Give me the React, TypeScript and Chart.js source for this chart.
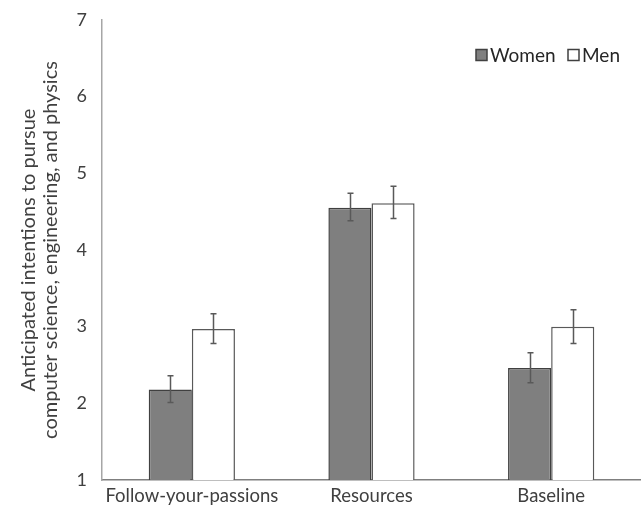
import React, { useEffect, useRef } from "react";
import { Chart, registerables } from "chart.js";

Chart.register(...registerables);

const categories = ["Follow-your-passions", "Resources", "Baseline"];
const seriesNames = ["Women", "Men"];
const women = [2.18, 4.55, 2.46];
const men = [2.97, 4.61, 3.0];
const womenLow = [2.01, 4.38, 2.27];
const womenHigh = [2.36, 4.74, 2.66];
const menLow = [2.78, 4.41, 2.78];
const menHigh = [3.17, 4.83, 3.22];
const yTicks = [1, 2, 3, 4, 5, 6, 7];
const yTitle = ["Anticipated intentions to pursue", "computer science, engineering, and physics"];

const FONT = "Lato, 'Open Sans', sans-serif";
const TEXT = "#404040";

const errorBars = {
  id: "errorBars",
  afterDatasetsDraw(chart: any) {
    const ctx = chart.ctx;
    const y = chart.scales.y;
    const lows = [womenLow, menLow];
    const highs = [womenHigh, menHigh];
    ctx.save();
    ctx.strokeStyle = "#595959";
    ctx.lineWidth = 1.5;
    chart.data.datasets.forEach((_: any, di: number) => {
      const meta = chart.getDatasetMeta(di);
      meta.data.forEach((bar: any, i: number) => {
        const x = Math.round(bar.x) + 0.5;
        const y1 = y.getPixelForValue(lows[di][i]);
        const y2 = y.getPixelForValue(highs[di][i]);
        ctx.beginPath();
        ctx.moveTo(x, y1);
        ctx.lineTo(x, y2);
        ctx.moveTo(x - 3, y1);
        ctx.lineTo(x + 3, y1);
        ctx.moveTo(x - 3, y2);
        ctx.lineTo(x + 3, y2);
        ctx.stroke();
      });
    });
    ctx.restore();
  },
};

const customLegend = {
  id: "customLegend",
  afterDraw(chart: any) {
    const ctx = chart.ctx;
    ctx.save();
    ctx.font = `19px ${FONT}`;
    ctx.textBaseline = "middle";
    const fills = ["#7f7f7f", "#ffffff"];
    const strokes = ["#404040", "#404040"];
    const xs = [476, 568];
    const cy = 55;
    seriesNames.forEach((name, i) => {
      ctx.fillStyle = fills[i];
      ctx.fillRect(xs[i], cy - 5.5, 11, 11);
      ctx.strokeStyle = strokes[i];
      ctx.lineWidth = 1.5;
      ctx.strokeRect(xs[i], cy - 5.5, 11, 11);
      ctx.fillStyle = "#262626";
      ctx.textAlign = "left";
      ctx.fillText(name, xs[i] + 14, cy + 1);
    });
    ctx.restore();
  },
};

const yTitlePlugin = {
  id: "yTitlePlugin",
  afterDraw(chart: any) {
    const ctx = chart.ctx;
    const area = chart.chartArea;
    const cy = (area.top + area.bottom) / 2;
    ctx.save();
    ctx.translate(0, cy);
    ctx.rotate(-Math.PI / 2);
    ctx.font = `20px ${FONT}`;
    ctx.fillStyle = TEXT;
    ctx.textAlign = "center";
    ctx.textBaseline = "middle";
    ctx.fillText(yTitle[0], 0, 29);
    ctx.fillText(yTitle[1], 0, 51);
    ctx.restore();
  },
};

export default function App() {
  const ref = useRef<HTMLCanvasElement>(null);
  useEffect(() => {
    document.body.style.margin = "0";
    const chart = new Chart(ref.current!, {
      type: "bar",
      data: {
        labels: categories,
        datasets: [
          {
            label: seriesNames[0],
            data: women,
            backgroundColor: "#7f7f7f",
            borderColor: "#404040",
            borderWidth: 1.5,
          },
          {
            label: seriesNames[1],
            data: men,
            backgroundColor: "#ffffff",
            borderColor: "#595959",
            borderWidth: 1.5,
          },
        ],
      },
      options: {
        animation: false,
        responsive: false,
        layout: { padding: { top: 0, right: 0, left: 0, bottom: 0 } },
        plugins: { legend: { display: false }, tooltip: { enabled: false } },
        datasets: { bar: { barPercentage: 1, categoryPercentage: 0.48 } },
        scales: {
          x: {
            grid: { display: false, drawTicks: false },
            border: { color: "#7f7f7f", width: 1.5 },
            ticks: { color: TEXT, font: { family: FONT, size: 18.5 }, padding: 5, maxRotation: 0, autoSkip: false },
            afterFit(s: any) {
              s.height = 26;
            },
          },
          y: {
            min: 1,
            max: 7,
            afterBuildTicks(s: any) {
              s.ticks = yTicks.map((v) => ({ value: v }));
            },
            grid: { display: false, drawTicks: false },
            border: { color: "#a6a6a6", width: 1.5 },
            ticks: { color: TEXT, font: { family: FONT, size: 18 }, padding: 15 },
            afterFit(s: any) {
              s.width = 102;
              s.paddingTop = 20;
            },
          },
        },
      },
      plugins: [errorBars, customLegend, yTitlePlugin],
    });
    return () => chart.destroy();
  }, []);
  return <canvas ref={ref} width={641} height={506} style={{ display: "block" }} />;
}
